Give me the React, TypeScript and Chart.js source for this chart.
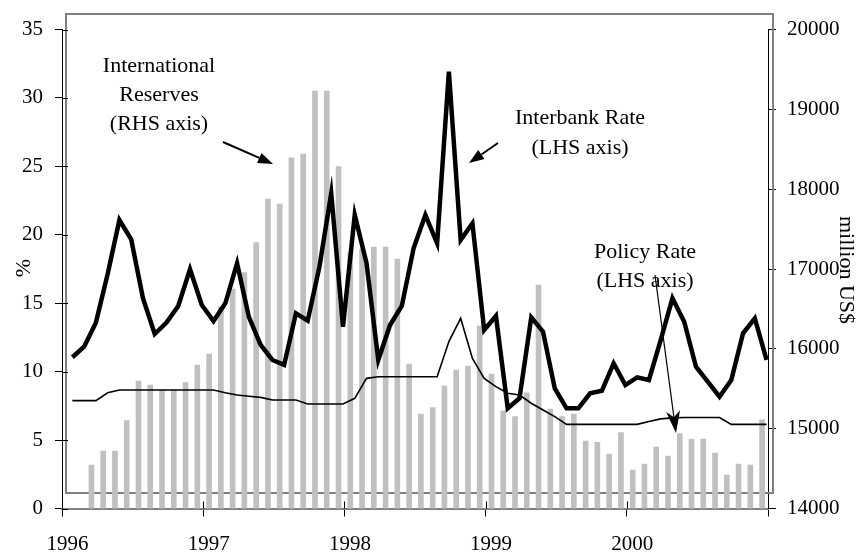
import React, { useEffect, useRef } from "react";
import { Chart, registerables } from "chart.js";

Chart.register(...registerables);

// Monthly observations, Jan 1996 .. Dec 2000 (60 months)
const yearLabels = ["1996", "1997", "1998", "1999", "2000"];

// International reserves, million US$ (RHS axis)
const reserves: (number | null)[] = [
  null, null, 14545, 14720, 14720, 15100, 15597, 15547, 15485, 15485, 15576, 15798,
  15935, 16528, 16750, 16954, 17330, 17877, 17814, 18391, 18441, 19230, 19230, 18282,
  17200, 17250, 17275, 17275, 17125, 15810, 15184, 15263, 15535, 15735, 15785, 16286,
  15685, 15222, 15150, 15450, 16800, 15246, 15150, 15184, 14845, 14830, 14683, 14950,
  14482, 14557, 14770, 14658, 14937, 14870, 14870, 14695, 14420, 14557, 14545, 15110,
];

// Interbank rate, % (LHS axis)
const interbank: number[] = [
  11.05, 11.82, 13.58, 17.13, 21.08, 19.67, 15.36, 12.75, 13.58, 14.8, 17.48, 14.87,
  13.7, 14.99, 17.92, 14.0, 11.95, 10.85, 10.49, 14.26, 13.72, 17.67, 23.03, 13.28,
  21.45, 17.92, 10.85, 13.41, 14.8, 19.01, 21.45, 19.38, 31.92, 19.62, 20.84, 13.04,
  14.07, 7.32, 8.05, 13.97, 12.92, 8.78, 7.32, 7.32, 8.42, 8.6, 10.61, 9.02,
  9.58, 9.39, 12.31, 15.36, 13.65, 10.36, 9.27, 8.17, 9.39, 12.8, 13.9, 10.85,
];

// Policy rate, % (LHS axis)
const policy: number[] = [
  7.88, 7.88, 7.88, 8.46, 8.66, 8.66, 8.66, 8.66, 8.66, 8.66, 8.66, 8.66,
  8.66, 8.46, 8.29, 8.2, 8.12, 7.93, 7.93, 7.93, 7.64, 7.64, 7.64, 7.64,
  8.05, 9.51, 9.63, 9.63, 9.63, 9.63, 9.63, 9.63, 12.2, 13.9, 10.97, 9.51,
  8.9, 8.42, 8.29, 7.69, 7.2, 6.71, 6.15, 6.15, 6.15, 6.15, 6.15, 6.15,
  6.15, 6.35, 6.55, 6.62, 6.65, 6.65, 6.65, 6.65, 6.15, 6.15, 6.15, 6.15,
];

const yearTicks = [0, 12, 24, 36, 48, 60];
const leftTicks = [0, 5, 10, 15, 20, 25, 30, 35];
const rightTicks = [14000, 15000, 16000, 17000, 18000, 19000, 20000];

const FONT = "'Liberation Serif', 'Times New Roman', serif";
const BAR_POS = 0.5;
const LINE_POS = 0.88;

function arrow(
  ctx: CanvasRenderingContext2D,
  x1: number, y1: number, x2: number, y2: number,
  lw: number, headLen: number, headW: number, notch: number
) {
  const ang = Math.atan2(y2 - y1, x2 - x1);
  const cos = Math.cos(ang), sin = Math.sin(ang);
  const bx = x2 - headLen * cos, by = y2 - headLen * sin;
  ctx.save();
  ctx.strokeStyle = "#000";
  ctx.fillStyle = "#000";
  ctx.lineWidth = lw;
  ctx.beginPath();
  ctx.moveTo(x1, y1);
  ctx.lineTo(bx + notch * cos, by + notch * sin);
  ctx.stroke();
  ctx.beginPath();
  ctx.moveTo(x2, y2);
  ctx.lineTo(bx - (headW / 2) * sin, by + (headW / 2) * cos);
  ctx.lineTo(bx + notch * cos, by + notch * sin);
  ctx.lineTo(bx + (headW / 2) * sin, by - (headW / 2) * cos);
  ctx.closePath();
  ctx.fill();
  ctx.restore();
}

const decorPlugin = {
  id: "decor",
  beforeDatasetsDraw(chart: any) {
    const ctx = chart.ctx as CanvasRenderingContext2D;
    ctx.save();
    ctx.strokeStyle = "#808080";
    ctx.lineWidth = 2;
    ctx.strokeRect(66, 14, 707, 479);
    ctx.restore();
  },
  afterDraw(chart: any) {
    const ctx = chart.ctx as CanvasRenderingContext2D;
    const { x, y } = chart.scales;
    const area = chart.chartArea;

    // inner halves of tick marks (ticks cross the axis lines)
    ctx.save();
    ctx.strokeStyle = "#000";
    ctx.lineWidth = 1;
    ctx.beginPath();
    yearTicks.forEach((v) => {
      const px = Math.round(x.getPixelForValue(v)) + 0.5;
      ctx.moveTo(px, area.bottom - 7);
      ctx.lineTo(px, area.bottom);
    });
    leftTicks.forEach((v) => {
      const py = Math.round(y.getPixelForValue(v)) + 0.5;
      ctx.moveTo(area.left, py);
      ctx.lineTo(area.left + 6, py);
    });
    ctx.stroke();
    ctx.restore();

    ctx.save();
    ctx.fillStyle = "#000";
    ctx.font = `22px ${FONT}`;
    ctx.textAlign = "center";
    ctx.textBaseline = "alphabetic";
    ctx.fillText("International", 159, 72);
    ctx.fillText("Reserves", 159, 101);
    ctx.fillText("(RHS axis)", 159, 130);
    ctx.fillText("Interbank Rate", 580, 124);
    ctx.fillText("(LHS axis)", 580, 154);
    ctx.fillText("Policy Rate", 645, 258);
    ctx.fillText("(LHS axis)", 645, 287);

    // axis titles
    ctx.save();
    ctx.translate(24, 268);
    ctx.rotate(-Math.PI / 2);
    ctx.textBaseline = "middle";
    ctx.fillText("%", 0, 0);
    ctx.restore();
    ctx.save();
    ctx.translate(846, 270);
    ctx.rotate(Math.PI / 2);
    ctx.textBaseline = "middle";
    ctx.fillText("million US$", 0, 0);
    ctx.restore();
    ctx.restore();

    arrow(ctx, 223, 142, 273, 164, 2, 15, 11, 0);
    arrow(ctx, 498, 143, 469, 163, 2, 15, 11, 0);
    arrow(ctx, 655, 275, 676, 433, 1.2, 22, 14, 6);
  },
};

export default function App() {
  const ref = useRef<HTMLCanvasElement | null>(null);
  useEffect(() => {
    if (!ref.current) return;
    const chart = new Chart(ref.current, {
      type: "bar",
      data: {
        datasets: [
          {
            type: "line",
            label: "Interbank Rate",
            data: interbank.map((v, i) => ({ x: i + LINE_POS, y: v })),
            yAxisID: "y",
            xAxisID: "x",
            borderColor: "#000",
            borderWidth: 4.5,
            pointRadius: 0,
            tension: 0,
            borderJoinStyle: "miter",
            order: 1,
          } as any,
          {
            type: "line",
            label: "Policy Rate",
            data: policy.map((v, i) => ({ x: i + LINE_POS, y: v })),
            yAxisID: "y",
            xAxisID: "x",
            borderColor: "#000",
            borderWidth: 1.6,
            pointRadius: 0,
            tension: 0,
            order: 2,
          } as any,
          {
            type: "bar",
            label: "International Reserves",
            data: reserves.map((v, i) => ({ x: i + BAR_POS, y: v })),
            yAxisID: "y2",
            xAxisID: "x",
            backgroundColor: "#c0c0c0",
            borderWidth: 0,
            barThickness: 5,
            order: 3,
          } as any,
        ],
      },
      options: {
        animation: false,
        responsive: false,
        devicePixelRatio: 1,
        layout: { padding: { top: 29.5, left: 0, right: 0, bottom: 0 } },
        plugins: {
          legend: { display: false },
          tooltip: { enabled: false },
          title: { display: false },
        },
        scales: {
          x: {
            type: "linear",
            min: 0,
            max: 60,
            offset: false,
            position: "bottom",
            afterBuildTicks: (s: any) => {
              s.ticks = yearTicks.map((v) => ({ value: v }));
            },
            afterFit: (s: any) => {
              s.height = 44.5;
            },
            ticks: {
              autoSkip: false,
              maxRotation: 0,
              color: "#000",
              font: { family: FONT, size: 21 },
              padding: 15,
              labelOffset: 5.5,
              callback: (v: any) => yearLabels[Math.round(Number(v) / 12)] ?? "",
            },
            grid: {
              offset: false,
              drawOnChartArea: false,
              drawTicks: true,
              tickLength: 8,
              color: "#000",
            },
            border: { color: "#808080", width: 2 },
          },
          y: {
            type: "linear",
            position: "left",
            min: 0,
            max: 35,
            afterBuildTicks: (s: any) => {
              s.ticks = leftTicks.map((v) => ({ value: v }));
            },
            afterFit: (s: any) => {
              s.width = 62;
            },
            ticks: {
              color: "#000",
              font: { family: FONT, size: 21 },
              padding: 12,
              callback: (v: any) => String(v),
            },
            grid: {
              drawOnChartArea: false,
              drawTicks: true,
              tickLength: 7,
              color: "#000",
            },
            border: { color: "#000", width: 1 },
          },
          y2: {
            type: "linear",
            position: "right",
            min: 14000,
            max: 20000,
            afterBuildTicks: (s: any) => {
              s.ticks = rightTicks.map((v) => ({ value: v }));
            },
            afterFit: (s: any) => {
              s.width = 91;
            },
            ticks: {
              color: "#000",
              font: { family: FONT, size: 21 },
              padding: 11,
              callback: (v: any) => String(v),
            },
            grid: {
              drawOnChartArea: false,
              drawTicks: true,
              tickLength: 8,
              color: "#000",
            },
            border: { color: "#000", width: 1 },
          },
        },
      } as any,
      plugins: [decorPlugin],
    });
    return () => chart.destroy();
  }, []);

  return (
    <div style={{ position: "absolute", left: 0, top: 0, width: 859, height: 553, background: "#fff" }}>
      <canvas ref={ref} width={859} height={553} style={{ display: "block", width: 859, height: 553 }} />
    </div>
  );
}
